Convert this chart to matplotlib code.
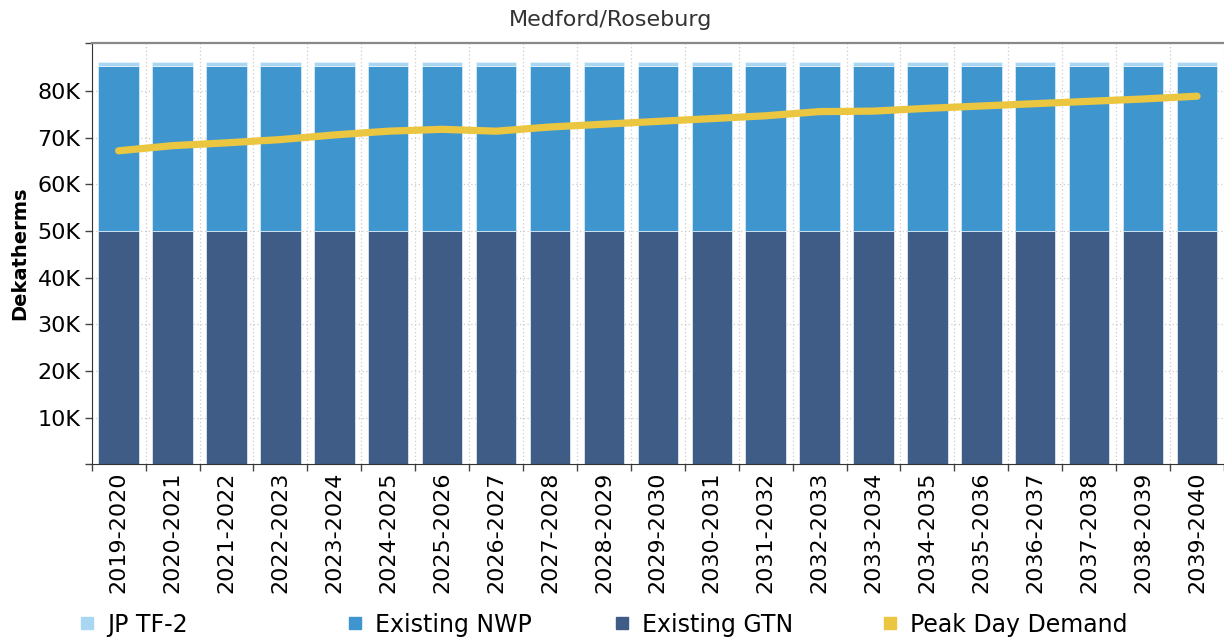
import numpy as np
import matplotlib.pyplot as plt
from matplotlib.lines import Line2D

plt.rcParams['font.family'] = ['DejaVu Sans']

# Medford/Roseburg peak day capacity vs demand (Dth)
years = [f"{y}-{y + 1}" for y in range(2019, 2040)]
existing_gtn = [50000] * 21
existing_nwp = [35400] * 21
jp_tf2 = [800] * 21
peak_day_demand = [67200, 68300, 68900, 69600, 70600, 71400, 71800, 71400, 72300,
                   72900, 73500, 74100, 74700, 75600, 75700, 76300, 76800, 77300,
                   77800, 78300, 78900]

colors = {
    "JP TF-2": "#a9d7f3",
    "Existing NWP": "#3f96cf",
    "Existing GTN": "#3e5c85",
    "Peak Day Demand": "#ebc640",
}

fig = plt.figure(figsize=(12.24, 6.38), dpi=100)
ax = fig.add_axes([0.0749, 0.2722, 0.9251, 0.6604])

x = np.arange(len(years))
w = 0.75
gtn = np.array(existing_gtn)
nwp = np.array(existing_nwp)
jp = np.array(jp_tf2)
ax.bar(x, gtn, w, color=colors["Existing GTN"], edgecolor="#dfe6ee", linewidth=0.6, zorder=2)
ax.bar(x, nwp, w, bottom=gtn, color=colors["Existing NWP"], edgecolor="#d6e9f6", linewidth=0.6, zorder=2)
ax.bar(x, jp, w, bottom=gtn + nwp, color=colors["JP TF-2"], edgecolor="#e6f3fb", linewidth=0.6, zorder=2)
ax.plot(x, peak_day_demand, color=colors["Peak Day Demand"], linewidth=5.2,
        solid_capstyle="round", solid_joinstyle="round", zorder=3)

ax.set_xlim(-0.5, len(years) - 0.5)
ax.set_ylim(0, 90300)

# labels centred under bars, tick marks on the bar boundaries
ax.set_xticks(x)
ax.set_xticklabels(years, rotation=90, fontsize=16)
ax.tick_params(axis="x", which="major", length=0, pad=5)
ax.set_xticks(np.arange(-0.5, len(years), 1), minor=True)
ax.tick_params(axis="x", which="minor", length=5, width=1, color="#444444")

yt = np.arange(10000, 90000, 10000)
ax.set_yticks(yt)
ax.set_yticklabels([f"{v // 1000}K" for v in yt], fontsize=16)
ax.set_yticks([0, 90300], minor=True)
ax.tick_params(axis="y", which="both", length=5, width=1, color="#444444", pad=3)

ax.grid(axis="y", which="major", color="#cccccc", linestyle=(0, (1, 2)), linewidth=0.9, zorder=0)
ax.grid(axis="x", which="minor", color="#cccccc", linestyle=(0, (1, 2)), linewidth=0.9, zorder=0)
ax.set_axisbelow(True)

ax.spines["right"].set_visible(False)
ax.spines["top"].set_color("#888888")
ax.spines["top"].set_linewidth(1.6)
ax.spines["left"].set_color("#333333")
ax.spines["bottom"].set_color("#333333")

ax.set_ylabel("Dekatherms", fontsize=14, fontweight="bold", labelpad=6)
fig.text(0.499, 0.968, "Medford/Roseburg", ha="center", va="center", fontsize=16, color="#333333")

# legend entries spaced evenly along the bottom
for i, name in enumerate(["JP TF-2", "Existing NWP", "Existing GTN", "Peak Day Demand"]):
    h = Line2D([], [], linestyle="none", marker="s", markersize=9,
               markerfacecolor=colors[name], markeredgecolor=colors[name])
    fig.legend(handles=[h], labels=[name], loc="center left",
               bbox_to_anchor=(0.056 + i * 0.2185, 0.021), frameon=False,
               fontsize=17, handlelength=0.6, handletextpad=0.55, borderpad=0)

fig.savefig("out.png", dpi=100)
